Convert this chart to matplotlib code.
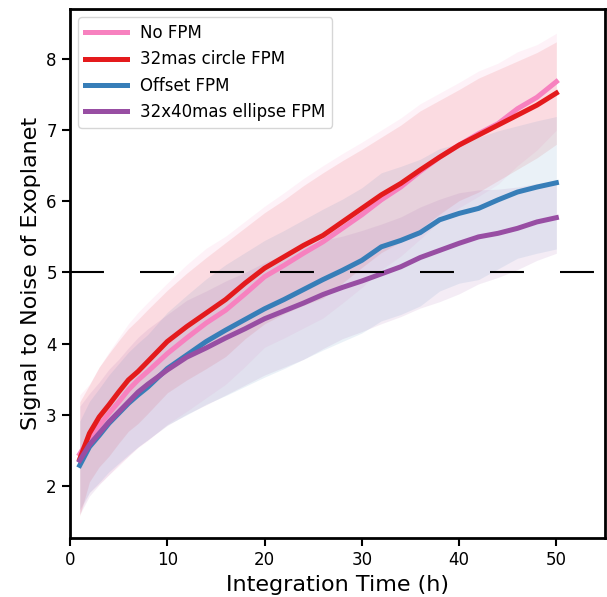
import numpy as np
import matplotlib
matplotlib.use("Agg")
import matplotlib.pyplot as plt

hours = [1, 2, 3, 4, 5, 6, 7, 8, 10, 12, 14, 16, 18, 20, 22, 24, 26, 28, 30,
         32, 34, 36, 38, 40, 42, 44, 46, 48, 50]

# mean S/N for each mask
snr_none = [2.45, 2.67, 2.85, 3.02, 3.18, 3.35, 3.49, 3.61, 3.86, 4.08, 4.29, 4.47, 4.70, 4.94, 5.10,
            5.27, 5.43, 5.62, 5.81, 6.02, 6.20, 6.42, 6.62, 6.79, 6.95, 7.09, 7.30, 7.46, 7.68]
snr_circle = [2.38, 2.74, 2.97, 3.14, 3.32, 3.49, 3.61, 3.75, 4.03, 4.24, 4.43, 4.62, 4.85, 5.06, 5.22,
              5.38, 5.52, 5.71, 5.90, 6.09, 6.25, 6.44, 6.62, 6.79, 6.93, 7.07, 7.21, 7.35, 7.52]
snr_offset = [2.29, 2.55, 2.71, 2.88, 3.02, 3.16, 3.28, 3.39, 3.65, 3.84, 4.03, 4.19, 4.34, 4.49, 4.62,
              4.76, 4.90, 5.03, 5.17, 5.36, 5.45, 5.56, 5.74, 5.83, 5.90, 6.02, 6.13, 6.20, 6.26]
snr_ellipse = [2.36, 2.58, 2.74, 2.90, 3.04, 3.18, 3.32, 3.43, 3.63, 3.81, 3.94, 4.08, 4.21, 4.35, 4.46,
               4.57, 4.69, 4.79, 4.88, 4.98, 5.08, 5.21, 5.31, 5.41, 5.50, 5.55, 5.62, 5.71, 5.77]

# spread (1 sigma)
std_none = [0.83, 0.76, 0.82, 0.86, 0.90, 0.93, 0.95, 0.97, 0.99, 1.03, 1.05, 1.04, 1.02, 0.99, 1.02,
            1.05, 1.07, 1.05, 1.02, 0.98, 0.97, 0.95, 0.90, 0.88, 0.88, 0.85, 0.80, 0.74, 0.68]
std_circle = [0.80, 0.68, 0.70, 0.72, 0.72, 0.72, 0.73, 0.73, 0.72, 0.75, 0.78, 0.80, 0.78, 0.78, 0.80,
              0.84, 0.88, 0.86, 0.83, 0.81, 0.82, 0.83, 0.80, 0.78, 0.80, 0.78, 0.76, 0.74, 0.72]
std_offset = [0.62, 0.64, 0.66, 0.68, 0.70, 0.72, 0.73, 0.74, 0.79, 0.84, 0.88, 0.92, 0.94, 0.96, 0.97,
              0.98, 0.99, 1.00, 1.02, 1.04, 1.04, 1.03, 1.00, 0.98, 1.00, 0.97, 0.93, 0.93, 0.93]
std_ellipse = [0.76, 0.72, 0.72, 0.74, 0.74, 0.76, 0.77, 0.78, 0.78, 0.80, 0.80, 0.80, 0.79, 0.79, 0.79,
               0.79, 0.76, 0.72, 0.71, 0.70, 0.70, 0.71, 0.72, 0.71, 0.66, 0.62, 0.58, 0.54, 0.50]

labels = ["No FPM", "32mas circle FPM", "Offset FPM", "32x40mas ellipse FPM"]
colors = ["#f781bf", "#e41a1c", "#377eb8", "#984ea3"]

fig = plt.figure(figsize=(6.07, 5.97), dpi=100)
ax = fig.add_axes([0.1153, 0.0988, 0.8814, 0.886])

x = np.array(hours)
means = [snr_none, snr_circle, snr_offset, snr_ellipse]
stds = [std_none, std_circle, std_offset, std_ellipse]

for m, s, c in zip(means, stds, colors):
    m = np.array(m)
    s = np.array(s)
    ax.fill_between(x, m - s, m + s, color=c, alpha=0.1, linewidth=0)

for m, c, lab in zip(means, colors, labels):
    ax.plot(x, m, color=c, lw=3.6, label=lab)

ax.axhline(5, color="black", lw=1.5, dashes=(16.3, 17.3))

ax.set_xlim(0, 55)
ax.set_ylim(1.27, 8.70)
ax.set_xlabel("Integration Time (h)", fontsize=16)
ax.set_ylabel("Signal to Noise of Exoplanet", fontsize=16)
ax.tick_params(labelsize=12, width=1.5, length=6)
for sp in ax.spines.values():
    sp.set_linewidth(2)

ax.legend(loc="upper left", fontsize=12, handlelength=2.5)

fig.savefig("out.png", dpi=100)
